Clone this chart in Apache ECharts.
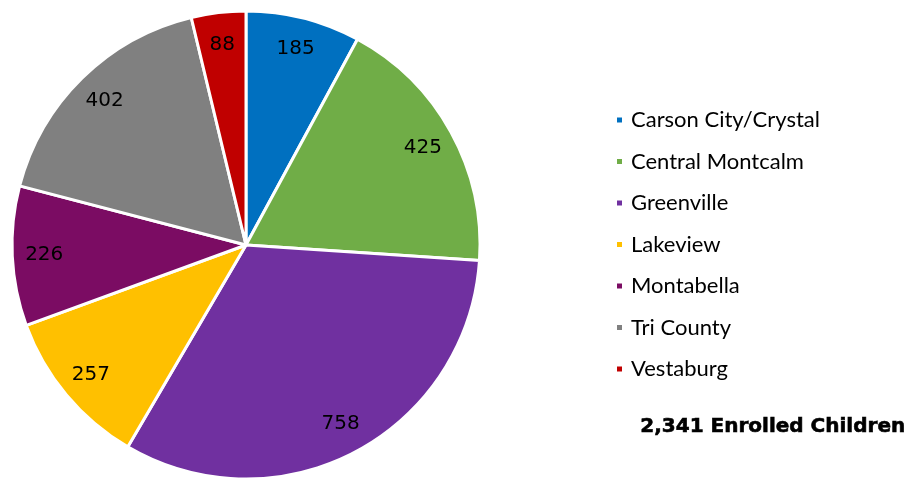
<!DOCTYPE html>
<html><head><meta charset="utf-8">
<script src="https://cdn.jsdelivr.net/npm/echarts@6/dist/echarts.min.js"></script>
<style>html,body{margin:0;padding:0;background:#fff}#c{width:913px;height:479px}</style>
</head><body><div id="c"></div>
<script>
const categories = ['Carson City/Crystal','Central Montcalm','Greenville','Lakeview','Montabella','Tri County','Vestaburg'];
const values = [185, 425, 758, 257, 226, 402, 88];
const colors = ['#0070C0','#70AD47','#7030A0','#FFC000','#7B0C63','#808080','#C00000'];
const totalText = '2,341 Enrolled Children';

const data = categories.map((n,i)=>({name:n, value:values[i], itemStyle:{color:colors[i]}}));
const chart = echarts.init(document.getElementById('c'));
chart.setOption({
  animation:false,
  legend:{
    orient:'vertical', left:610, top:104,
    icon:'rect', itemWidth:7, itemHeight:7, itemGap:19.5,
    textStyle:{fontFamily:'Lato', fontSize:22, color:'#000', padding:[0,0,0,3]},
    data:categories
  },
  graphic:[{type:'text', left:640, top:416, style:{text:totalText, font:'bold 20px "DejaVu Sans"', fill:'#000', stroke:'#000', lineWidth:0.6}}],
  series:[
    {type:'pie', center:[246,245], radius:[0,234], startAngle:90, clockwise:true,
     label:{show:false}, labelLine:{show:false},
     itemStyle:{borderColor:'#fff', borderWidth:3}, emphasis:{disabled:true}, data:data},
    {type:'pie', center:[246,245], radius:[164,234], startAngle:90, clockwise:true, silent:true,
     legendHoverLink:false,
     label:{show:true, position:'inside', formatter:'{c}', fontFamily:'DejaVu Sans', fontSize:20, color:'#000'},
     labelLine:{show:false},
     itemStyle:{color:'transparent', borderWidth:0}, emphasis:{disabled:true},
     data:categories.map((n,i)=>({name:n+' ', value:values[i]}))}
  ]
});
</script></body></html>
